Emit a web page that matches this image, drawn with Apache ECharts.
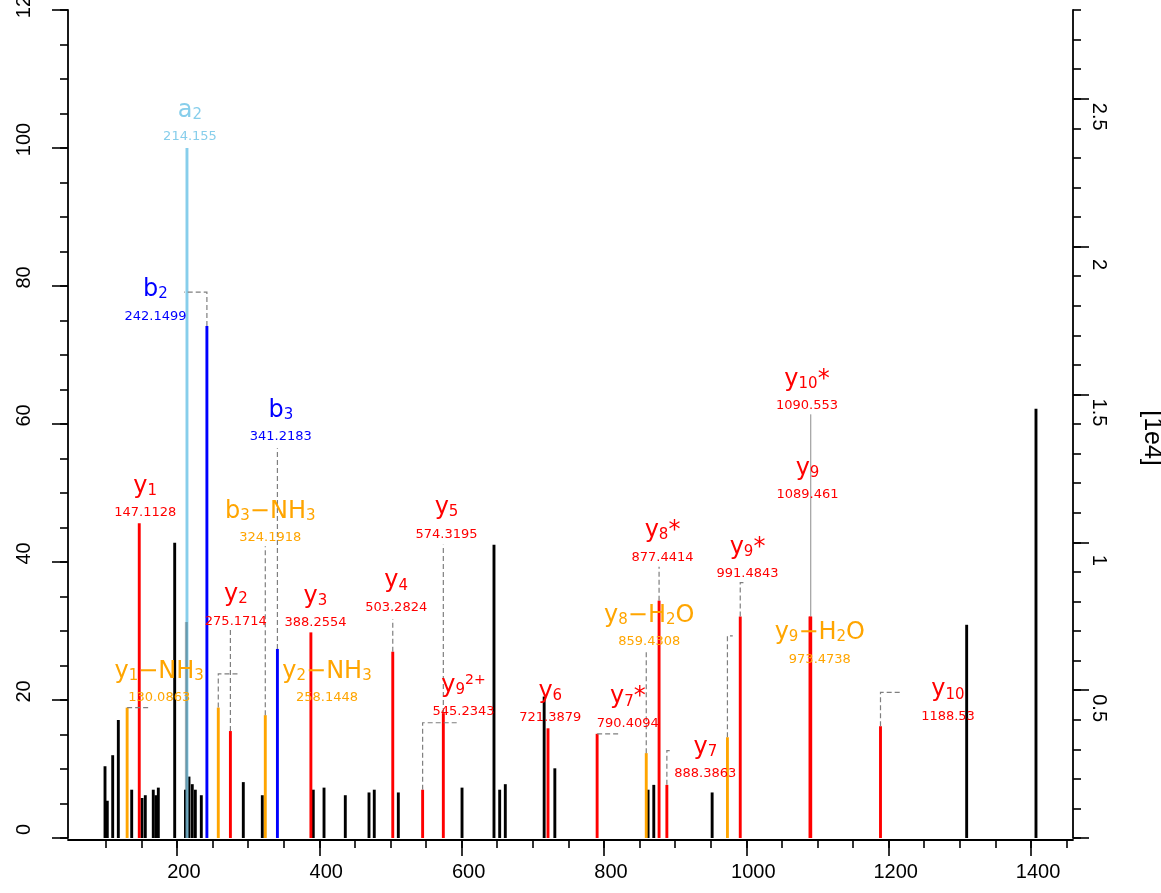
<!DOCTYPE html>
<html>
<head>
<meta charset="utf-8">
<script src="https://cdn.jsdelivr.net/npm/echarts@6/dist/echarts.min.js"></script>
<style>
html,body{margin:0;padding:0;background:#fff;}
#chart{width:1161px;height:893px;}
</style>
</head>
<body>
<div id="chart"></div>
<script>
// ---------- unannotated peaks (m/z, relative intensity %) ----------
const otherMz  = [99.0,102.2,109.8,117.7,136.5,151.0,155.6,166.8,170.6,173.9,196.9,212.0,217.0,221.6,225.9,234.3,293.3,320.0,391.6,406.7,436.6,469.9,477.3,511.1,600.6,645.5,653.5,661.4,716.0,731.0,862.0,870.0,952.0,1309.6,1407.0];
const otherInt = [10.4,5.4,12.0,17.1,7.0,5.8,6.2,7.0,6.2,7.3,42.8,7.0,8.9,7.8,7.0,6.2,8.1,6.2,7.0,7.3,6.2,6.6,7.0,6.6,7.3,42.5,7.0,7.8,20.5,10.1,7.0,7.7,6.6,30.9,62.2];

// peak hidden behind a2 (shows as a darker band)
const blendMz  = [213.2];
const blendInt = [31.3];

// ---------- annotated ions ----------
const ionNames = ['y_1−NH_3','y_1','a_2','b_2','y_2−NH_3','y_2','b_3−NH_3','b_3','y_3','y_4','y_9^2+','y_5','y_6','y_7*','y_8−H_2O','y_8*','y_7','y_9−H_2O','y_9*','y_9','y_10*','y_10'];
const ionMz    = [130.0863,147.1128,214.155,242.1499,258.1448,275.1714,324.1918,341.2183,388.2554,503.2824,545.2343,574.3195,721.3879,790.4094,859.4308,877.4414,888.3863,973.4738,991.4843,1089.461,1090.553,1188.53];
const ionInt   = [18.9,45.6,100,74.2,18.9,15.5,17.8,27.4,29.8,27.0,7.0,18.1,15.9,15.1,12.3,34.4,7.7,14.6,32.1,32.1,32.1,16.2];
const ionType  = ['loss','y','a','b','loss','y','loss','b','y','y','y','y','y','y','loss','y','y','loss','y','y','y','y'];

// label anchor (centre of the m/z line), in data units
const labelMz  = [175.1,155.5,218.4,169.9,410.9,282.8,331.2,346.0,394.7,508.1,602.7,578.8,724.6,833.5,863.6,882.3,942.4,1103.3,1001.7,1086.0,1085.3,1283.4];
const labelInt = [20.3,47.1,101.6,75.6,20.3,31.4,43.5,58.1,31.2,33.4,18.3,44.0,17.4,16.6,28.4,40.7,9.3,25.9,38.3,49.7,62.6,17.6];

// leader lines: corner intensity and end m/z (null = none)
const leaderInt = [18.9,null,null,79.1,23.8,30.4,42.3,56.5,null,31.7,16.7,42.5,null,15.1,27.0,39.3,12.65,29.3,37.0,null,61.4,21.1];
const leaderMz  = [163.2,null,null,210.0,288.7,null,null,null,null,null,596.3,null,null,822.5,null,null,894.0,981.0,996.5,null,null,1215.9];
const leaderSolid = [false,false,false,false,false,false,false,false,false,false,false,false,false,false,false,false,false,false,false,false,true,false];

// ---------- axis ticks ----------
const xMajor = [200,400,600,800,1000,1200,1400];
const xMinor = [100,150,200,250,300,350,400,450,500,550,600,650,700,750,800,850,900,950,1000,1050,1100,1150,1200,1250,1300,1350,1400,1450];
const yLeftMajor = [0,20,40,60,80,100,120];
const yLeftMinor = [0,5,10,15,20,25,30,35,40,45,50,55,60,65,70,75,80,85,90,95,100,105,110,115,120];
const yRightMajor = [0,0.5,1,1.5,2,2.5];
const yRightLabels = [0.5,1,1.5,2,2.5];
const yRightMinor = [0,0.1,0.2,0.3,0.4,0.5,0.6,0.7,0.8,0.9,1.0,1.1,1.2,1.3,1.4,1.5,1.6,1.7,1.8,1.9,2.0,2.1,2.2,2.3,2.4,2.5,2.6,2.7,2.8];

const COLORS = {y:'#FF0000', b:'#0000FF', a:'#87CEEB', loss:'#FFA500'};
const FONT_ANN = 'DejaVu Sans';
const FONT_AX = 'Liberation Sans';

function richName(s){
  let out = '', i = 0;
  while (i < s.length){
    const c = s[i];
    if (c === '_'){
      let j = i+1, t = '';
      while (j < s.length && /[0-9]/.test(s[j])){ t += s[j]; j++; }
      out += '{s|' + t + '}'; i = j;
    } else if (c === '^'){
      out += '{p|' + s.slice(i+1) + '}'; i = s.length;
    } else {
      let j = i, t = '';
      while (j < s.length && s[j] !== '_' && s[j] !== '^'){ t += s[j]; j++; }
      out += '{m|' + t + '}'; i = j;
    }
  }
  return out;
}

function peakSeries(mzArr, intArr, colorOf, opacity, width){
  return {
    type:'custom', xAxisIndex:0, yAxisIndex:0, silent:true, z:2,
    data: mzArr.map((m,i)=>[m,intArr[i]]),
    renderItem(params, api){
      const i = params.dataIndex;
      const p0 = api.coord([api.value(0), 0]);
      const p1 = api.coord([api.value(0), api.value(1)]);
      return {type:'line', shape:{x1:p0[0],y1:p0[1],x2:p1[0],y2:p1[1]},
              style:{stroke:colorOf(i), lineWidth:width, opacity:opacity}};
    }
  };
}

const axisLineStyle = {color:'#000', width:1.8};
const tickStyle = {color:'#000', width:1.6};

const chart = echarts.init(document.getElementById('chart'), null, {renderer:'canvas'});
chart.setOption({
  animation:false,
  backgroundColor:'#fff',
  grid:{left:68, right:88, top:10, bottom:55, containLabel:false, outerBoundsMode:'none'},
  xAxis:[
    {type:'value', min:47, max:1459, position:'bottom', offset:2,
     axisLine:{show:true, onZero:false, lineStyle:axisLineStyle},
     axisTick:{show:true, customValues:xMajor, length:16, lineStyle:tickStyle},
     axisLabel:{show:true, customValues:xMajor, fontSize:20, fontFamily:FONT_AX, color:'#000', margin:22, padding:[0,0,0,14], formatter:v=>String(v)},
     splitLine:{show:false}},
    {type:'value', min:47, max:1459, position:'bottom', offset:2,
     axisLine:{show:false, onZero:false},
     axisTick:{show:true, customValues:xMinor, length:8, lineStyle:tickStyle},
     axisLabel:{show:false}, splitLine:{show:false}}
  ],
  yAxis:[
    {type:'value', min:0, max:120, position:'left',
     axisLine:{show:true, onZero:false, lineStyle:axisLineStyle},
     axisTick:{show:true, customValues:yLeftMajor, length:16, lineStyle:tickStyle},
     axisLabel:{show:true, customValues:yLeftMajor, rotate:90, align:'center', verticalAlign:'bottom', margin:34, padding:[0,0,0,17], fontSize:20, fontFamily:FONT_AX, color:'#000', formatter:v=>String(v)},
     splitLine:{show:false}},
    {type:'value', min:0, max:120, position:'left',
     axisLine:{show:false, onZero:false},
     axisTick:{show:true, customValues:yLeftMinor, length:8, lineStyle:tickStyle},
     axisLabel:{show:false}, splitLine:{show:false}},
    {type:'value', min:0, max:2.8, position:'right',
     axisLine:{show:true, onZero:false, lineStyle:axisLineStyle},
     axisTick:{show:true, customValues:yRightMajor, length:16, lineStyle:tickStyle},
     axisLabel:{show:true, customValues:yRightLabels, rotate:-90, align:'center', verticalAlign:'bottom', margin:16, padding:[0,0,0,36], fontSize:20, fontFamily:FONT_AX, color:'#000', formatter:v=>String(v)},
     name:'[1e4]', nameLocation:'middle', nameRotate:-90, nameGap:66,
     nameTextStyle:{fontSize:25, fontFamily:FONT_AX, color:'#000', padding:[0,0,0,28]},
     splitLine:{show:false}},
    {type:'value', min:0, max:2.8, position:'right',
     axisLine:{show:false, onZero:false},
     axisTick:{show:true, customValues:yRightMinor, length:8, lineStyle:tickStyle},
     axisLabel:{show:false}, splitLine:{show:false}}
  ],
  series:[
    peakSeries(otherMz, otherInt, ()=>'#000000', 1, 2.9),
    peakSeries(ionMz, ionInt, i=>COLORS[ionType[i]], 1, 2.9),
    peakSeries(blendMz, blendInt, ()=>'#000000', 0.25, 2.9),
    {
      type:'custom', xAxisIndex:0, yAxisIndex:0, silent:true, z:3,
      data: ionMz.map((m,i)=>[m, ionInt[i]]),
      renderItem(params, api){
        const i = params.dataIndex;
        if (leaderInt[i] == null) return null;
        const pts = [api.coord([ionMz[i], ionInt[i]]), api.coord([ionMz[i], leaderInt[i]])];
        if (leaderMz[i] != null) pts.push(api.coord([leaderMz[i], leaderInt[i]]));
        return {type:'polyline', shape:{points:pts},
                style:{stroke: leaderSolid[i] ? '#8c8c8c' : '#7f7f7f', lineWidth: leaderSolid[i] ? 1 : 1.2, fill:null,
                       lineDash: leaderSolid[i] ? null : [5,3]}};
      }
    },
    {
      type:'custom', xAxisIndex:0, yAxisIndex:0, silent:true, z:4,
      data: labelMz.map((m,i)=>[m, labelInt[i]]),
      renderItem(params, api){
        const i = params.dataIndex;
        const p = api.coord([labelMz[i], labelInt[i]]);
        const col = COLORS[ionType[i]];
        return {type:'group', children:[
          {type:'text', x:p[0], y:p[1]-26.3, style:{
            text: richName(ionNames[i]), align:'center', verticalAlign:'middle',
            fill: col, fontFamily:FONT_ANN, fontSize:24,
            rich:{
              m:{fontFamily:FONT_ANN, fontSize:24, lineHeight:24, verticalAlign:'bottom', fill:col},
              s:{fontFamily:FONT_ANN, fontSize:15, verticalAlign:'bottom', fill:col},
              p:{fontFamily:FONT_ANN, fontSize:14, verticalAlign:'top', fill:col}
            }}},
          {type:'text', x:p[0], y:p[1], style:{
            text: String(ionMz[i]), align:'center', verticalAlign:'middle',
            fill: col, fontFamily:FONT_ANN, fontSize:13}}
        ]};
      }
    }
  ]
});
</script>
</body>
</html>
